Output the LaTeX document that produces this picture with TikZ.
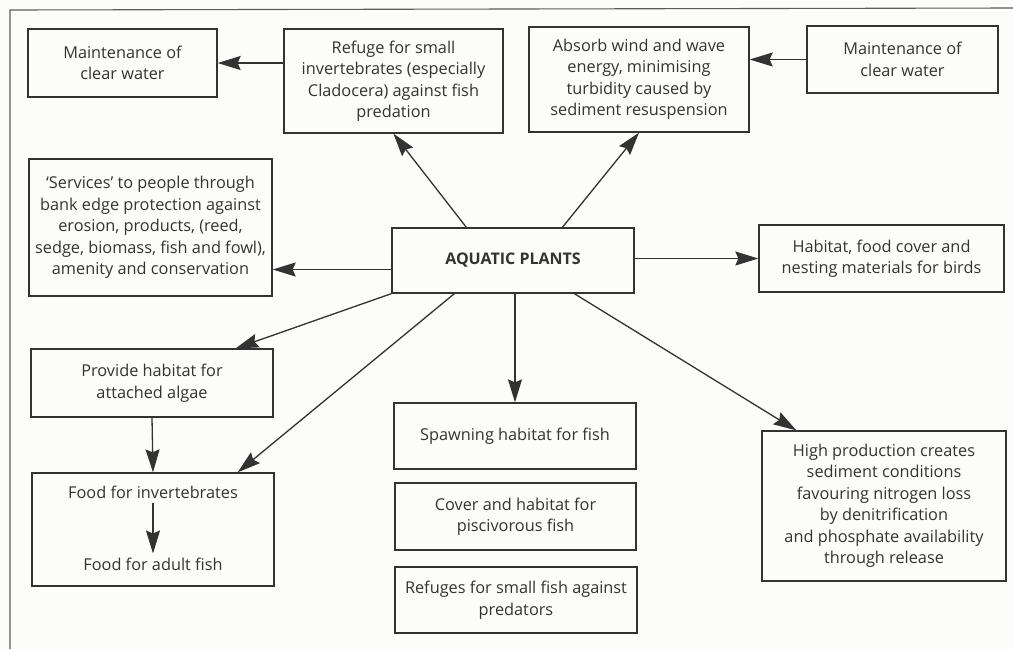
\documentclass[tikz,border=0pt]{standalone}
\usepackage{fontspec}
\setmainfont{Open Sans}
\usetikzlibrary{arrows.meta}
\definecolor{ink}{HTML}{333333}
\definecolor{paper}{HTML}{FCFCFA}
\tikzset{
  box/.style={draw=ink, line width=1.3pt, rectangle, align=center, text=ink,
    font=\fontsize{16.3}{21.5}\selectfont, inner sep=0pt},
  txt/.style={align=center, text=ink, font=\fontsize{16.3}{21.5}\selectfont, inner sep=1pt},
  arr/.style={draw=ink, line width=1.3pt, -{Stealth[length=23pt, width=14pt, inset=3pt]}},
  frame/.style={draw=ink!80, line width=1.1pt}
}
\begin{document}
\begin{tikzpicture}[x=1pt, y=-1pt]
\fill[paper] (0,0) rectangle (1013,649);
\useasboundingbox (0,0) rectangle (1013,649);
\coordinate (fa) at (10,649);
\coordinate (fb) at (10,10);
\coordinate (fc) at (1013,8);
\draw[frame] (fa) -- (fb) -- (fc);

\node[box, minimum width=189pt, minimum height=68pt] (mL) at (122.5,63) {Maintenance of\\clear water};
\node[box, minimum width=219pt, minimum height=104pt] (ref) at (393.5,81) {Refuge for small\\invertebrates (especially\\Cladocera) against fish\\predation};
\node[box, minimum width=220pt, minimum height=105pt] (abs) at (639,79.5) {Absorb wind and wave\\energy, minimising\\turbidity caused by\\sediment resuspension};
\node[box, minimum width=191pt, minimum height=67pt] (mR) at (902.5,59.5) {Maintenance of\\clear water};
\node[box, minimum width=243pt, minimum height=137pt] (serv) at (150.5,227.5) {`Services' to people through\\bank edge protection against\\erosion, products, (reed,\\sedge, biomass, fish and fowl),\\amenity and conservation};
\node[box, minimum width=242pt, minimum height=65pt, font=\fontsize{16}{21}\selectfont\bfseries] (aq) at (513,260.5) {AQUATIC PLANTS};
\node[box, minimum width=245pt, minimum height=67pt] (birds) at (881.5,258.5) {Habitat, food cover and\\nesting materials for birds};
\node[box, minimum width=242pt, minimum height=68pt] (alg) at (152,383) {Provide habitat for\\attached algae};
\node[box, minimum width=242pt, minimum height=113pt] (food) at (153,529.5) {};
\node[txt] (finv) at (153,492) {Food for invertebrates};
\node[txt] (fadu) at (153,564) {Food for adult fish};
\node[box, minimum width=242pt, minimum height=66pt] (spawn) at (515,436) {Spawning habitat for fish};
\node[box, minimum width=241pt, minimum height=67pt] (cover) at (515.5,516.5) {Cover and habitat for\\piscivorous fish};
\node[box, minimum width=242pt, minimum height=66pt] (refsf) at (516,600) {Refuges for small fish against\\predators};
\node[box, minimum width=244pt, minimum height=150pt] (high) at (884,506) {High production creates\\sediment conditions\\favouring nitrogen loss\\by denitrification\\and phosphate availability\\through release};

% connectors
\draw[arr] (ref.west |- mL.east) -- (mL.east);
\draw[arr] (mR.west) -- (abs.east |- mR.west);
\draw[arr] ([xshift=75pt]aq.north west) -- (ref.south);
\draw[arr] ([xshift=171pt]aq.north west) -- (abs.south);
\draw[arr] ([yshift=-9pt]aq.west) coordinate (s1) -- (serv.east |- s1);
\draw[arr] (aq.east |- birds.west) -- (birds.west);
\draw[arr] (aq.south west) -- ([xshift=-38pt]alg.north east);
\draw[arr] ([xshift=63pt]aq.south west) -- ([xshift=-37pt]food.north east);
\draw[arr] (spawn.north |- aq.south) -- (spawn.north);
\draw[arr] ([xshift=183pt]aq.south west) -- ([xshift=35pt]high.north west);
\draw[arr] (alg.south) -- (food.north);
\draw[arr] ([yshift=-3pt]finv.south) -- ([yshift=3pt]fadu.north);
\end{tikzpicture}
\end{document}
